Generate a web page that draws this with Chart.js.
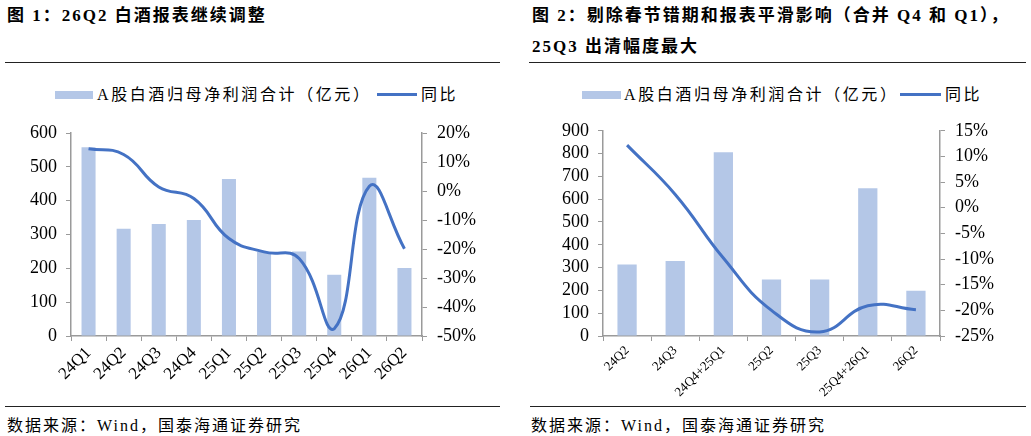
<!DOCTYPE html>
<html>
<head>
<meta charset="utf-8">
<script src="https://cdn.jsdelivr.net/npm/chart.js@4"></script>
<style>
  body { margin: 0; background: #fff; width: 1031px; height: 436px; position: relative; overflow: hidden;
    font-family: "Liberation Serif", "Noto Sans CJK SC", serif; color: #000; }
  .abs { position: absolute; white-space: nowrap; }
  .title { font-weight: bold; font-size: 17px; line-height: 31px; letter-spacing: 2px; }
  .rule { position: absolute; height: 0; border-top: 1.5px solid #222; }
  .legend { font-size: 16px; letter-spacing: 2.6px; line-height: 20px; }
  .sw-bar { position: absolute; height: 8px; background: #b4c7e7; }
  .sw-line { position: absolute; height: 3px; background: #4472c4; }
  .src { font-size: 16px; letter-spacing: 2px; }
  canvas { position: absolute; }
</style>
</head>
<body>
<div class="abs title" style="left:7px;top:0px;">图 1：26Q2 白酒报表继续调整</div>
<div class="abs title" style="left:532px;top:0px;">图 2：剔除春节错期和报表平滑影响（合并 Q4 和 Q1），<br>25Q3 出清幅度最大</div>
<div class="rule" style="left:5px;top:62px;width:495px;"></div>
<div class="rule" style="left:529px;top:62px;width:497px;"></div>

<div class="sw-bar" style="left:55px;top:91px;width:38px;"></div>
<div class="abs legend" style="left:97px;top:85px;">A股白酒归母净利润合计（亿元）</div>
<div class="sw-line" style="left:377px;top:93px;width:40px;"></div>
<div class="abs legend" style="left:421px;top:85px;">同比</div>

<div class="sw-bar" style="left:582px;top:91px;width:39px;"></div>
<div class="abs legend" style="left:624px;top:85px;">A股白酒归母净利润合计（亿元）</div>
<div class="sw-line" style="left:900px;top:93px;width:41px;"></div>
<div class="abs legend" style="left:945px;top:85px;">同比</div>

<canvas id="c1" width="500" height="290" style="left:0px;top:110px;"></canvas>
<canvas id="c2" width="511" height="290" style="left:520px;top:110px;"></canvas>

<div class="rule" style="left:5px;top:406px;width:495px;"></div>
<div class="rule" style="left:530px;top:406px;width:496px;"></div>
<div class="abs src" style="left:7px;top:412px;">数据来源：Wind，国泰海通证券研究</div>
<div class="abs src" style="left:531px;top:412px;">数据来源：Wind，国泰海通证券研究</div>

<script>
// 图1 单季度
const quarters = ['24Q1', '24Q2', '24Q3', '24Q4', '25Q1', '25Q2', '25Q3', '25Q4', '26Q1', '26Q2']
const profit1 = [558, 317, 331, 343, 464, 248, 250, 181, 468, 201]
const yoy1 = [14.6, 12.6, 1.4, -2.6, -16.4, -21.0, -23.3, -47.5, 1.6, -19.9]

// 图2 合并Q4和Q1
const periods = ['24Q2', '24Q3', '24Q4+25Q1', '25Q2', '25Q3', '25Q4+26Q1', '26Q2']
const profit2 = [314, 329, 806, 248, 248, 648, 198]
const yoy2 = [12.2, 2.6, -9.8, -20.0, -24.2, -19.1, -19.9]

const axisGray = '#9a9a9a'
const serif = 'Liberation Serif'

const makeChart = (id, labels, bars, line, opts) => {
  return new Chart(document.getElementById(id), {
    data: {
      labels: labels,
      datasets: [
        {
          type: 'line', label: '同比', data: line, yAxisID: 'y1', order: 1,
          borderColor: '#4472c4', borderWidth: 3, pointRadius: 0, tension: 0.45, fill: false
        },
        {
          type: 'bar', label: 'A股白酒归母净利润合计（亿元）', data: bars, yAxisID: 'y', order: 2,
          backgroundColor: '#b4c7e7', categoryPercentage: 1, barPercentage: 0.4
        }
      ]
    },
    options: {
      responsive: false,
      animation: false,
      layout: { padding: { top: opts.top, left: 0, right: 0, bottom: 0 } },
      plugins: { legend: { display: false }, tooltip: { enabled: false } },
      scales: {
        x: {
          afterFit: s => { s.height = opts.xh },
          grid: { display: true, drawOnChartArea: false, offset: true, color: axisGray, tickLength: 5 },
          border: { color: axisGray, width: 1.5 },
          ticks: { color: '#000', font: { family: serif, size: opts.xfont }, minRotation: 45, maxRotation: 45, padding: 2, autoSkip: false }
        },
        y: {
          position: 'left', min: 0, max: opts.ymax, afterFit: s => { s.width = opts.lw },
          grid: { display: true, drawOnChartArea: false, color: axisGray, tickLength: 5 },
          border: { color: axisGray, width: 1.5 },
          ticks: { stepSize: 100, autoSkip: false, color: '#000', font: { family: serif, size: 18 }, padding: 9 }
        },
        y1: {
          position: 'right', min: opts.rmin, max: opts.rmax, afterFit: s => { s.width = opts.rw },
          grid: { display: true, drawOnChartArea: false, color: axisGray, tickLength: 5 },
          border: { color: axisGray, width: 1.5 },
          ticks: { stepSize: opts.rstep, autoSkip: false, color: '#000', font: { family: serif, size: 18 }, padding: 10, callback: v => v + '%' }
        }
      }
    }
  })
}

makeChart('c1', quarters, profit1, yoy1, { top: 23, xh: 64, lw: 71, rw: 78, ymax: 600, rmin: -50, rmax: 20, rstep: 10, xfont: 17 })
makeChart('c2', periods, profit2, yoy2, { top: 18, xh: 64, lw: 83, rw: 91, ymax: 900, rmin: -25, rmax: 15, rstep: 5, xfont: 13 })
</script>
</body>
</html>
